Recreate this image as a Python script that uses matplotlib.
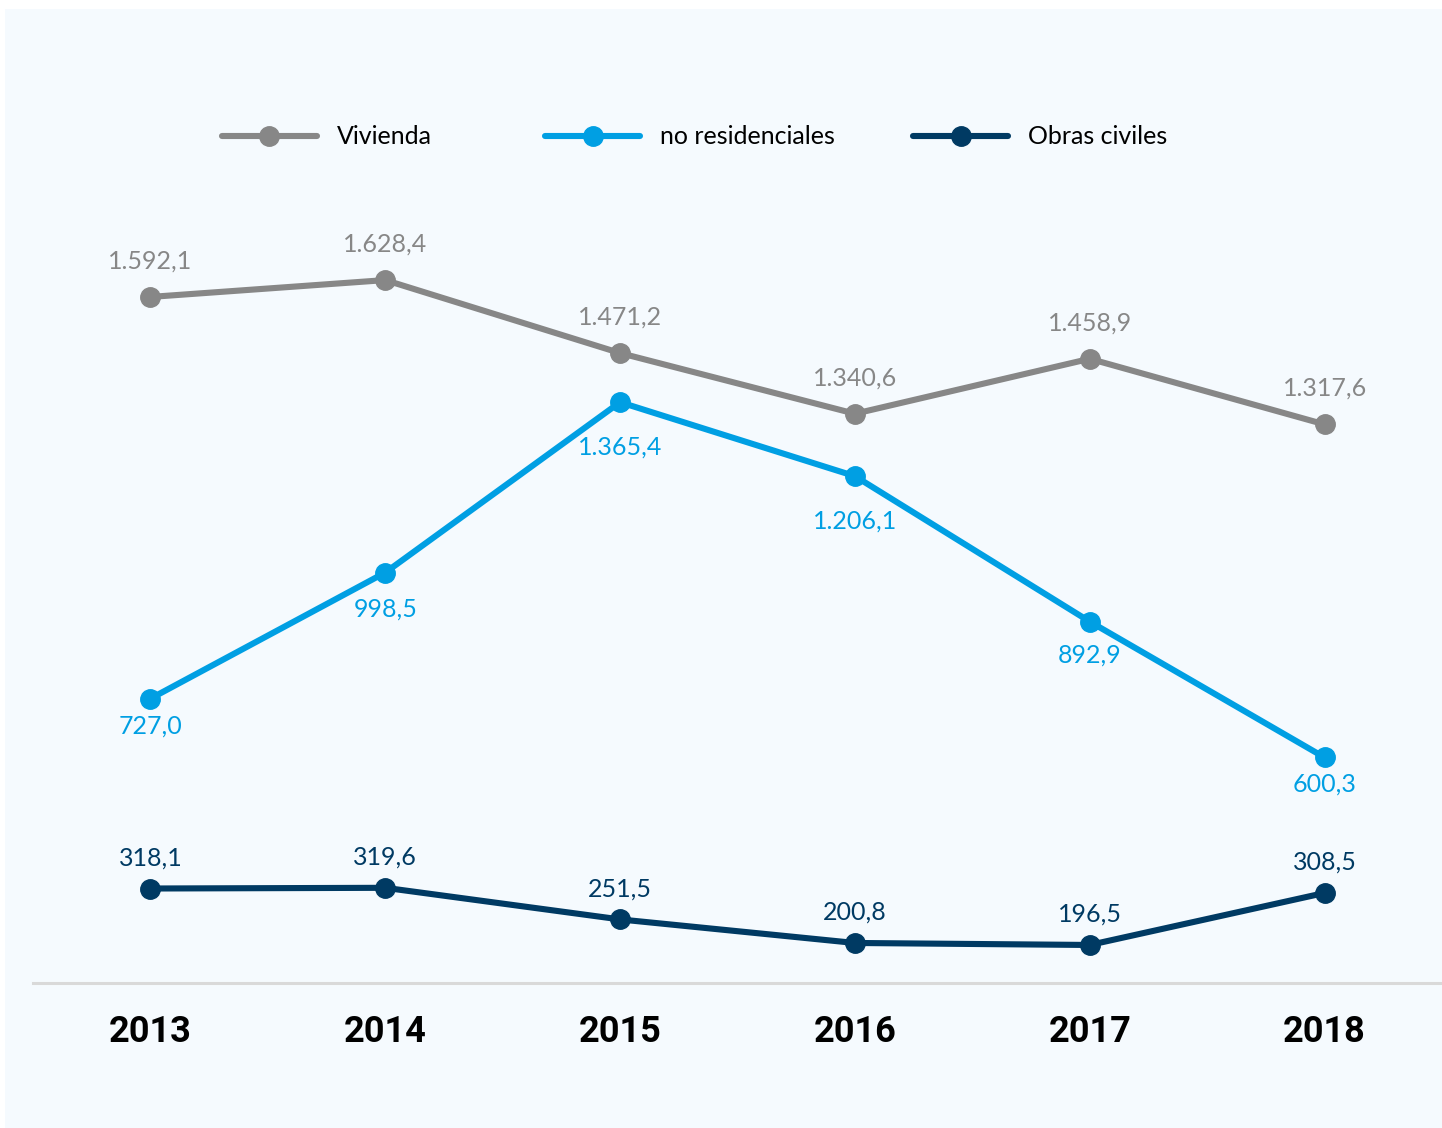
import matplotlib.pyplot as plt
from matplotlib.patches import Rectangle

years = ["2013", "2014", "2015", "2016", "2017", "2018"]
vivienda = [1592.1, 1628.4, 1471.2, 1340.6, 1458.9, 1317.6]
no_residenciales = [727.0, 998.5, 1365.4, 1206.1, 892.9, 600.3]
obras_civiles = [318.1, 319.6, 251.5, 200.8, 196.5, 308.5]

c_viv = "#878787"
c_nores = "#009FE3"
c_obras = "#003A63"
bg = "#F5FAFE"

plt.rcParams['font.family'] = ['Lato', 'DejaVu Sans']

fig = plt.figure(figsize=(14.42, 11.28), dpi=100)
fig.patch.set_facecolor("white")
fig.patches.append(Rectangle((5 / 1442, 0), 1, 1 - 9 / 1128, transform=fig.transFigure,
                             facecolor=bg, edgecolor="none", zorder=-10))

ax = fig.add_axes([33 / 1442, 1 - 983 / 1128, 1 - 33 / 1442, (983 - 160) / 1128])
ax.set_facecolor("none")

x = list(range(len(years)))


def fmt(v):
    s = f"{v:,.1f}"
    return s.replace(",", "X").replace(".", ",").replace("X", ".")


# label offsets in points (label placement only)
off_viv = [26] * 6
off_nores = [-20, -26, -32, -32, -24, -19]
off_obras = [22] * 6

series = [
    ("Vivienda", vivienda, c_viv, off_viv),
    ("no residenciales", no_residenciales, c_nores, off_nores),
    ("Obras civiles", obras_civiles, c_obras, off_obras),
]
handles = []
for name, vals, col, offs in series:
    ln, = ax.plot(x, vals, color=col, lw=4.4, marker="o", ms=14, label=name,
                  solid_capstyle="round", zorder=3)
    handles.append(ln)
    for xi, v, off in zip(x, vals, offs):
        ax.annotate(fmt(v), (xi, v), xytext=(0, off), textcoords="offset points",
                    ha="center", va="center", fontsize=18, color=col)

ax.set_xlim(-0.5, 5.5)
ax.set_ylim(114.6, 1887)
ax.set_xticks(x)
ax.set_xticklabels(years, fontsize=26, fontweight="bold", family="Roboto", color="black")
ax.tick_params(axis="x", length=0, pad=22)
ax.set_yticks([])
for s in ["top", "right", "left"]:
    ax.spines[s].set_visible(False)
ax.spines["bottom"].set_color("#D9D9D9")
ax.spines["bottom"].set_linewidth(2.2)

# one legend per entry, placed at the reference column positions
for h, xpx in zip(handles, [222, 545, 913]):
    leg = fig.legend([h], [h.get_label()], loc="center left",
                     bbox_to_anchor=(xpx / 1442, 1 - 137 / 1128),
                     frameon=False, fontsize=18, handlelength=3.8,
                     handletextpad=0.8, borderpad=0, borderaxespad=0)

fig.savefig("out.png", dpi=100, facecolor=fig.get_facecolor())
